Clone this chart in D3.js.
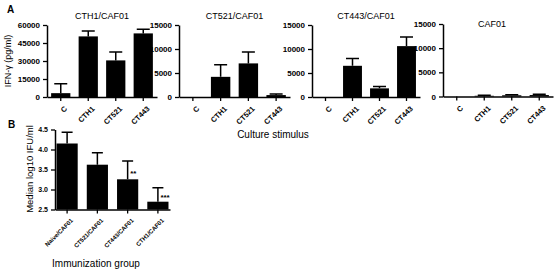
<!DOCTYPE html>
<html>
<head>
<meta charset="utf-8">
<script src="https://cdn.jsdelivr.net/npm/d3@7"></script>
<style>
  body { margin: 0; background: #fff; }
  svg { display: block; font-family: Arial, 'Liberation Sans', sans-serif; }
</style>
</head>
<body>
<div id="chart"></div>
<script>
// panel A data
const stimuli = ['C', 'CTH1', 'CT521', 'CT443']
const panelTitles = ['CTH1/CAF01', 'CT521/CAF01', 'CT443/CAF01', 'CAF01']
const cth1Means = [3200, 50500, 30500, 53000]
const cth1Errors = [11000, 55000, 37500, 56500]
const ct521Means = [0, 4200, 7000, 400]
const ct521Errors = [0, 6700, 9400, 600]
const ct443Means = [0, 6500, 1800, 10600]
const ct443Errors = [0, 8000, 2200, 12500]
const cafMeans = [0, 150, 250, 300]
const cafErrors = [0, 250, 350, 450]
const ticksA = [[0, 15000, 30000, 45000, 60000], [0, 5000, 10000, 15000], [0, 5000, 10000, 15000], [0, 5000, 10000, 15000]]

// panel B data
const groups = ['Naive/CAF01', 'CT521/CAF01', 'CT443/CAF01', 'CTH1/CAF01']
const medians = [4.15, 3.62, 3.255, 2.695]
const medianErrors = [4.43, 3.92, 3.71, 3.045]
const stars = ['', '', '**', '***']
const ticksB = [2.5, 3.0, 3.5, 4.0, 4.5]

const svg = d3.select('#chart')
  .append('svg')
    .attr('width', 558)
    .attr('height', 271)

const panelsA = [
  { means: cth1Means, errs: cth1Errors, max: 60000, x0: 47, x1: 157, y0: 97, y1: 25 },
  { means: ct521Means, errs: ct521Errors, max: 15000, x0: 179, x1: 290, y0: 97, y1: 25 },
  { means: ct443Means, errs: ct443Errors, max: 15000, x0: 312, x1: 420, y0: 97, y1: 25 },
  { means: cafMeans, errs: cafErrors, max: 15000, x0: 443, x1: 553, y0: 96.5, y1: 24 }
]

panelsA.forEach((p, i) => {
  const g = svg.append('g')
  const x = d3.scaleBand().domain(stimuli).range([p.x0, p.x1]).paddingInner(0.3).paddingOuter(0.15)
  const y = d3.scaleLinear().domain([0, p.max]).range([p.y0, p.y1])
  drawBars(g, stimuli, p.means, p.errs, x, y, 0, 6.5)

  g.append('g')
    .attr('transform', `translate(${p.x0}, 0)`)
    .call(d3.axisLeft(y).tickValues(ticksA[i]).tickSize(4).tickSizeOuter(0).tickFormat(d3.format('d')))
    .call(styleAxis, 8)

  g.append('g')
    .attr('transform', `translate(0, ${p.y0})`)
    .call(d3.axisBottom(x).tickSize(4).tickSizeOuter(0))
    .call(styleAxis, 7.5)
    .call(rotateLabels)

  g.append('text')
    .attr('x', (p.x0 + p.x1) / 2 + (i === 3 ? -6 : 0))
    .attr('y', i === 3 ? 27 : 19)
    .attr('text-anchor', 'middle')
    .attr('font-size', 9)
    .text(panelTitles[i])
})

svg.append('text').attr('x', 7).attr('y', 13).attr('font-size', 10).attr('font-weight', 'bold').text('A')
svg.append('text')
  .attr('transform', 'translate(11, 61) rotate(-90)')
  .attr('text-anchor', 'middle')
  .attr('font-size', 9)
  .text('IFN-\u03b3  (pg/ml)')
svg.append('text')
  .attr('x', 273).attr('y', 138)
  .attr('text-anchor', 'middle')
  .attr('font-size', 10)
  .text('Culture stimulus')

// panel B
const gB = svg.append('g')
const xB = d3.scaleBand().domain(groups).range([55, 170]).paddingInner(0.3).paddingOuter(0.05)
const yB = d3.scaleLinear().domain([2.5, 4.5]).range([209.5, 129.5])
drawBars(gB, groups, medians, medianErrors, xB, yB, 2.5, 5.5)

gB.selectAll('.star')
  .data(groups.filter((d, i) => stars[i]))
  .enter()
  .append('text')
    .attr('class', 'star')
    .attr('x', d => xB(d) + xB.bandwidth() / 2 + 2.5)
    .attr('y', d => yB(medians[groups.indexOf(d)]) + (stars[groups.indexOf(d)].length === 3 ? -2 : -3))
    .attr('font-size', 8)
    .attr('font-weight', 'bold')
    .text(d => stars[groups.indexOf(d)])

gB.append('g')
  .attr('transform', 'translate(55, 0)')
  .call(d3.axisLeft(yB).tickValues(ticksB).tickSize(4).tickSizeOuter(0).tickFormat(d3.format('.1f')))
  .call(styleAxis, 7)

gB.append('g')
  .attr('transform', `translate(0, ${yB(2.5)})`)
  .call(d3.axisBottom(xB).tickSize(4).tickSizeOuter(0))
  .call(styleAxis, 6)
  .call(rotateLabels)

svg.append('text').attr('x', 8).attr('y', 128).attr('font-size', 10).attr('font-weight', 'bold').text('B')
svg.append('text')
  .attr('transform', 'translate(33, 169) rotate(-90)')
  .attr('text-anchor', 'middle')
  .attr('font-size', 9.5)
  .text('Median log10 IFU/ml')
svg.append('text')
  .attr('x', 96).attr('y', 267)
  .attr('text-anchor', 'middle')
  .attr('font-size', 10)
  .text('Immunization group')

function drawBars (g, cats, vals, errs, x, y, base, cap) {
  const cx = d => x(d) + x.bandwidth() / 2
  g.selectAll('.err')
    .data(cats)
    .enter()
    .append('path')
      .attr('class', 'err')
      .attr('d', (d, i) => {
        const top = y(errs[i])
        return `M${cx(d)},${y(vals[i])}V${top}M${cx(d) - cap},${top}H${cx(d) + cap}`
      })
      .attr('stroke', '#000')
      .attr('stroke-width', 1.5)
      .attr('fill', 'none')
      .style('display', (d, i) => errs[i] > vals[i] ? null : 'none')

  g.selectAll('.bar')
    .data(cats)
    .enter()
    .append('rect')
      .attr('class', 'bar')
      .attr('x', d => x(d))
      .attr('width', x.bandwidth())
      .attr('y', (d, i) => y(vals[i]))
      .attr('height', (d, i) => y(base) - y(vals[i]))
      .attr('fill', '#000')
}

function styleAxis (g, size) {
  g.selectAll('.domain').attr('stroke-width', 1.5)
  g.selectAll('.tick line').attr('stroke-width', 1.3)
  g.selectAll('.tick text')
    .attr('font-size', size)
    .attr('font-weight', 'bold')
    .attr('font-family', 'Arial, Liberation Sans, sans-serif')
}

function rotateLabels (g) {
  g.selectAll('.tick text')
    .attr('text-anchor', 'end')
    .attr('dx', '-0.1em')
    .attr('dy', '0.6em')
    .attr('transform', 'rotate(-45) translate(-3, 2)')
}
</script>
</body>
</html>
